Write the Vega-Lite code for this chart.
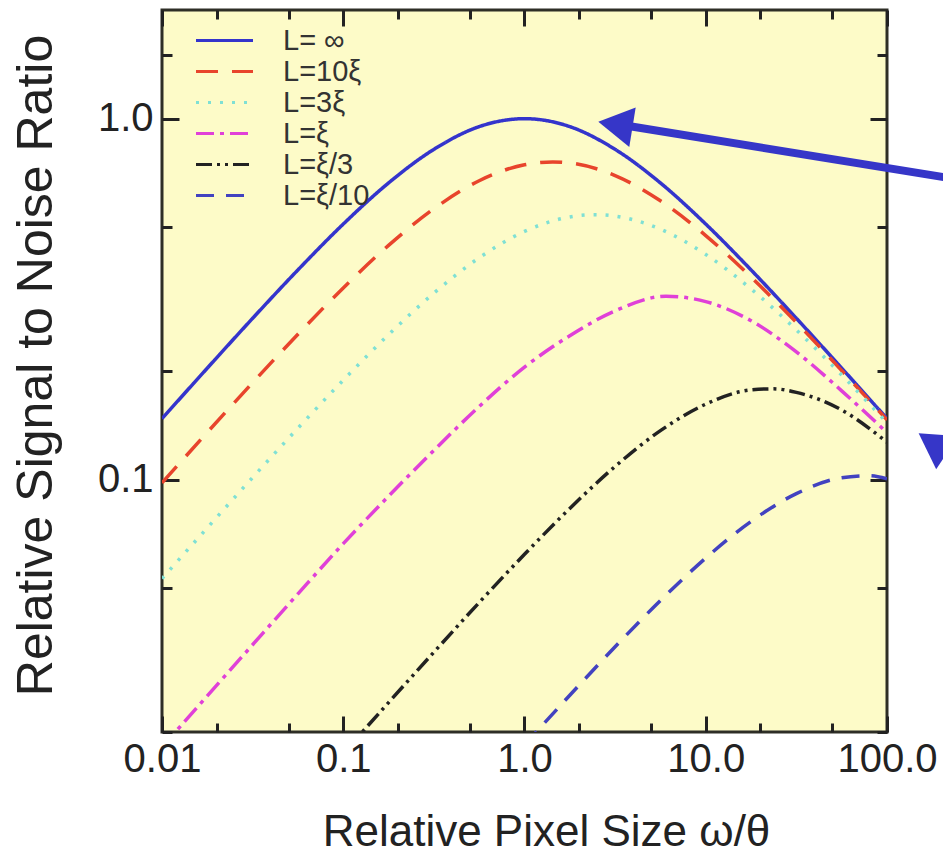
{
 "$schema": "https://vega.github.io/schema/vega-lite/v6.json",
 "width": 725, "height": 722,
 "autosize": {"type": "none"},
 "padding": {"left": 162, "top": 10, "right": 56, "bottom": 127},
 "background": "white",
 "config": {
   "view": {"fill": "#fdfbc8", "stroke": "#2e2e26", "strokeWidth": 3},
   "font": "Liberation Sans",
   "axis": {"domain": false, "grid": false, "tickColor": "#222", "tickWidth": 3, "labelFont": "Liberation Sans", "titleFont": "Liberation Sans", "labelColor": "#222", "titleColor": "#222", "titleFontWeight": "normal"}
 },
 "datasets": {
  "curves": [
   {"series":"L= ∞","x":0.01,"y":0.1476},{"series":"L= ∞","x":0.01778,"y":0.2037},{"series":"L= ∞","x":0.03162,"y":0.2799},{"series":"L= ∞","x":0.05623,"y":0.3811},{"series":"L= ∞","x":0.1,"y":0.5105},{"series":"L= ∞","x":0.1778,"y":0.6637},{"series":"L= ∞","x":0.3162,"y":0.8222},{"series":"L= ∞","x":0.5623,"y":0.9506},{"series":"L= ∞","x":0.75,"y":0.987},{"series":"L= ∞","x":1,"y":1.0},{"series":"L= ∞","x":1.334,"y":0.987},{"series":"L= ∞","x":1.778,"y":0.9506},{"series":"L= ∞","x":3.162,"y":0.8222},{"series":"L= ∞","x":5.623,"y":0.6637},{"series":"L= ∞","x":10,"y":0.5105},{"series":"L= ∞","x":17.78,"y":0.3811},{"series":"L= ∞","x":31.62,"y":0.2799},{"series":"L= ∞","x":56.23,"y":0.2037},{"series":"L= ∞","x":100,"y":0.1476},
   {"series":"L=10ξ","x":0.01,"y":0.09797},{"series":"L=10ξ","x":0.01778,"y":0.1352},{"series":"L=10ξ","x":0.03162,"y":0.1856},{"series":"L=10ξ","x":0.05623,"y":0.2529},{"series":"L=10ξ","x":0.1,"y":0.3397},{"series":"L=10ξ","x":0.1778,"y":0.4457},{"series":"L=10ξ","x":0.3162,"y":0.563},{"series":"L=10ξ","x":0.5623,"y":0.6731},{"series":"L=10ξ","x":1,"y":0.7453},{"series":"L=10ξ","x":1.432,"y":0.759},{"series":"L=10ξ","x":1.778,"y":0.754},{"series":"L=10ξ","x":3.162,"y":0.6957},{"series":"L=10ξ","x":5.623,"y":0.5923},{"series":"L=10ξ","x":10,"y":0.4745},{"series":"L=10ξ","x":17.78,"y":0.3641},{"series":"L=10ξ","x":31.62,"y":0.2726},{"series":"L=10ξ","x":56.23,"y":0.2006},{"series":"L=10ξ","x":100,"y":0.1464},
   {"series":"L=3ξ","x":0.01,"y":0.05321},{"series":"L=3ξ","x":0.01778,"y":0.07356},{"series":"L=3ξ","x":0.03162,"y":0.1014},{"series":"L=3ξ","x":0.05623,"y":0.1389},{"series":"L=3ξ","x":0.1,"y":0.1886},{"series":"L=3ξ","x":0.1778,"y":0.2521},{"series":"L=3ξ","x":0.3162,"y":0.3286},{"series":"L=3ξ","x":0.5623,"y":0.4118},{"series":"L=3ξ","x":1,"y":0.4873},{"series":"L=3ξ","x":1.778,"y":0.5343},{"series":"L=3ξ","x":2.449,"y":0.542},{"series":"L=3ξ","x":3.162,"y":0.5372},{"series":"L=3ξ","x":5.623,"y":0.4941},{"series":"L=3ξ","x":10,"y":0.4207},{"series":"L=3ξ","x":17.78,"y":0.3376},{"series":"L=3ξ","x":31.62,"y":0.26},{"series":"L=3ξ","x":56.23,"y":0.195},{"series":"L=3ξ","x":100,"y":0.1437},
   {"series":"L=ξ","x":0.01,"y":0.01817},{"series":"L=ξ","x":0.01778,"y":0.02519},{"series":"L=ξ","x":0.03162,"y":0.03489},{"series":"L=ξ","x":0.05623,"y":0.04828},{"series":"L=ξ","x":0.1,"y":0.0665},{"series":"L=ξ","x":0.1778,"y":0.09},{"series":"L=ξ","x":0.3162,"y":0.1205},{"series":"L=ξ","x":0.5623,"y":0.1595},{"series":"L=ξ","x":1,"y":0.205},{"series":"L=ξ","x":1.778,"y":0.2505},{"series":"L=ξ","x":3.162,"y":0.2935},{"series":"L=ξ","x":6.036,"y":0.3222},{"series":"L=ξ","x":10,"y":0.3114},{"series":"L=ξ","x":17.78,"y":0.2756},{"series":"L=ξ","x":31.62,"y":0.2259},{"series":"L=ξ","x":56.23,"y":0.1762},{"series":"L=ξ","x":100,"y":0.135},
   {"series":"L=ξ/3","x":0.1,"y":0.01744},{"series":"L=ξ/3","x":0.1778,"y":0.02413},{"series":"L=ξ/3","x":0.3162,"y":0.03327},{"series":"L=ξ/3","x":0.5623,"y":0.04568},{"series":"L=ξ/3","x":1,"y":0.06212},{"series":"L=ξ/3","x":1.778,"y":0.08326},{"series":"L=ξ/3","x":3.162,"y":0.1088},{"series":"L=ξ/3","x":5.623,"y":0.1367},{"series":"L=ξ/3","x":10,"y":0.1619},{"series":"L=ξ/3","x":17.78,"y":0.1773},{"series":"L=ξ/3","x":23.66,"y":0.1785},{"series":"L=ξ/3","x":31.62,"y":0.1745},{"series":"L=ξ/3","x":56.23,"y":0.156},{"series":"L=ξ/3","x":100,"y":0.127},
   {"series":"L=ξ/10","x":1,"y":0.01842},{"series":"L=ξ/10","x":1.778,"y":0.02528},{"series":"L=ξ/10","x":3.162,"y":0.03444},{"series":"L=ξ/10","x":5.623,"y":0.04626},{"series":"L=ξ/10","x":10,"y":0.06067},{"series":"L=ξ/10","x":17.78,"y":0.07662},{"series":"L=ξ/10","x":31.62,"y":0.09147},{"series":"L=ξ/10","x":56.23,"y":0.1012},{"series":"L=ξ/10","x":80,"y":0.1025},{"series":"L=ξ/10","x":100,"y":0.1005}
  ],
  "arrowLine": [{"x": 420.3, "y": 0.6497, "x2": 3.82, "y2": 0.9525}],
  "arrowHeadA": [{"x": 3.173, "y": 0.9634}],
  "arrowHeadB": [{"x": 179.4, "y": 0.1264}]
 },
 "resolve": {"axis": {"x": "independent", "y": "independent"}},
 "layer": [
  {
   "data": {"name": "curves"},
   "mark": {"type": "line", "strokeWidth": 3.5, "clip": true, "interpolate": "monotone"},
   "encoding": {
    "x": {"field": "x", "type": "quantitative", "scale": {"type": "log", "domain": [0.01, 100]},
      "axis": {"orient": "bottom", "values": [0.01,0.02,0.05,0.1,0.2,0.5,1,2,5,10,20,50,100],
        "labelExpr": "datum.value==0.01?'0.01':datum.value==0.1?'0.1':datum.value==1?'1.0':datum.value==10?'10.0':datum.value==100?'100.0':''",
        "tickSize": {"condition": {"test": "datum.value==0.01||datum.value==0.1||datum.value==1||datum.value==10||datum.value==100", "value": -16}, "value": -9},
        "labelFontSize": 40, "labelPadding": 23, "labelFlush": false, "labelOverlap": false,
        "title": "Relative Pixel Size ω/θ", "titleFontSize": 44, "titleY": 100, "titleX": 384, "titleBaseline": "middle"}},
    "y": {"field": "y", "type": "quantitative", "scale": {"type": "log", "domain": [0.02, 2]},
      "axis": {"orient": "left", "values": [0.02,0.05,0.1,0.2,0.5,1,1.5],
        "labelExpr": "datum.value==1?'1.0':datum.value==0.1?'0.1':''",
        "tickSize": {"condition": {"test": "datum.value==1||datum.value==0.1", "value": -17}, "value": -10},
        "labelFontSize": 40, "labelPadding": 26, "labelOverlap": false,
        "title": "Relative Signal to Noise Ratio", "titleFontSize": 50, "titleX": -126, "titleY": 355, "titleBaseline": "middle"}},
    "color": {"field": "series", "type": "nominal",
      "scale": {"domain": ["L= ∞","L=10ξ","L=3ξ","L=ξ","L=ξ/3","L=ξ/10"], "range": ["#3434cc","#e8442c","#7fe0d4","#e040d8","#222222","#4242c0"]},
      "legend": {"orient": "none", "legendX": 48, "legendY": 16, "title": null, "symbolType": "M-3,0L3,0", "symbolSize": 361, "symbolStrokeWidth": 3, "labelFontSize": 29, "labelFont": "Liberation Sans", "labelColor": "#333", "labelOffset": 44, "rowPadding": 1, "padding": 0, "labelLimit": 300}},
    "strokeDash": {"field": "series", "type": "nominal",
      "scale": {"domain": ["L= ∞","L=10ξ","L=3ξ","L=ξ","L=ξ/3","L=ξ/10"], "range": [[1,0],[22,14],[3,9],[18,6,4,6],[16,5,3,5,3,5],[18,12]]},
      "legend": {"orient": "none", "legendX": 48, "legendY": 16, "title": null, "symbolType": "M-3,0L3,0", "symbolSize": 361, "symbolStrokeWidth": 3, "labelFontSize": 29, "labelFont": "Liberation Sans", "labelColor": "#333", "labelOffset": 44, "rowPadding": 1, "padding": 0, "labelLimit": 300}}
   }
  },
  {
   "data": {"name": "arrowLine"},
   "mark": {"type": "rule", "clip": false, "color": "#3636c8", "strokeWidth": 8},
   "encoding": {
    "x": {"field": "x", "type": "quantitative", "scale": {"type": "log", "domain": [0.01, 100]},
      "axis": {"orient": "top", "values": [0.01,0.02,0.05,0.1,0.2,0.5,1,2,5,10,20,50,100], "labels": false, "title": null,
        "tickSize": {"condition": {"test": "datum.value==0.01||datum.value==0.1||datum.value==1||datum.value==10||datum.value==100", "value": -16}, "value": -9}}},
    "y": {"field": "y", "type": "quantitative", "scale": {"type": "log", "domain": [0.02, 2]},
      "axis": {"orient": "right", "values": [0.02,0.05,0.1,0.2,0.5,1,1.5], "labels": false, "title": null,
        "tickSize": {"condition": {"test": "datum.value==1||datum.value==0.1", "value": -17}, "value": -10}}},
    "x2": {"field": "x2"},
    "y2": {"field": "y2"}
   }
  },
  {
   "data": {"name": "arrowHeadA"},
   "mark": {"type": "point", "shape": "triangle-left", "filled": true, "size": 1600, "angle": 9.2, "color": "#3636c8", "opacity": 1, "clip": false, "strokeWidth": 0},
   "encoding": {
    "x": {"field": "x", "type": "quantitative", "scale": {"type": "log", "domain": [0.01, 100]}, "axis": null},
    "y": {"field": "y", "type": "quantitative", "scale": {"type": "log", "domain": [0.02, 2]}, "axis": null}
   }
  },
  {
   "data": {"name": "arrowHeadB"},
   "mark": {"type": "point", "shape": "triangle-left", "filled": true, "size": 1600, "angle": 34, "color": "#3636c8", "opacity": 1, "clip": false, "strokeWidth": 0},
   "encoding": {
    "x": {"field": "x", "type": "quantitative", "scale": {"type": "log", "domain": [0.01, 100]}, "axis": null},
    "y": {"field": "y", "type": "quantitative", "scale": {"type": "log", "domain": [0.02, 2]}, "axis": null}
   }
  }
 ]
}
